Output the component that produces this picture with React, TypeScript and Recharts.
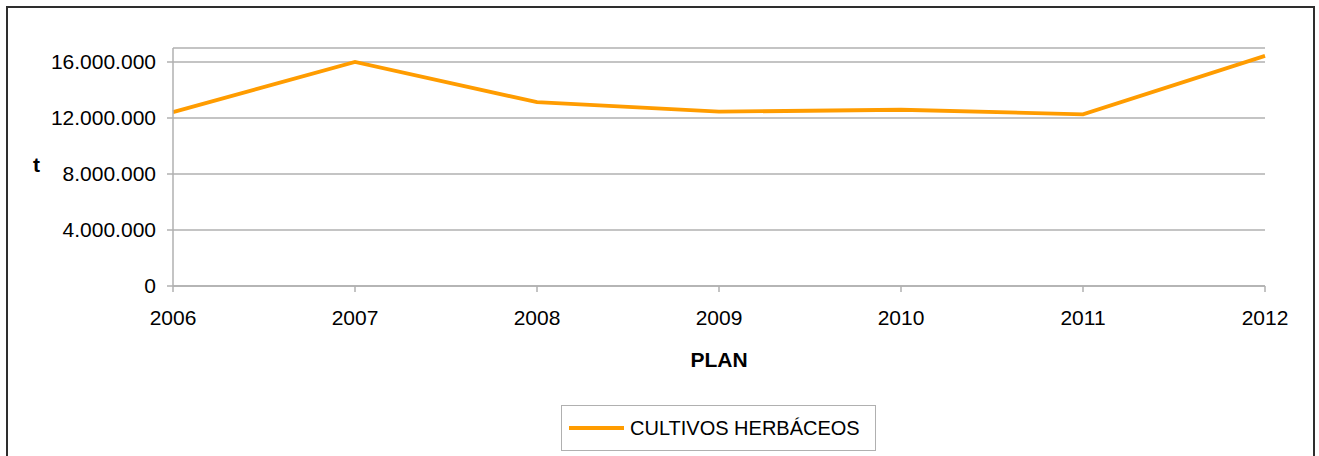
import { CartesianGrid, Label, Line, LineChart, XAxis, YAxis } from "recharts";

const years = ["2006", "2007", "2008", "2009", "2010", "2011", "2012"];
const herbaceos = [12420000, 16000000, 13130000, 12450000, 12590000, 12260000, 16440000];
const yTicks = [0, 4000000, 8000000, 12000000, 16000000];
const seriesName = "CULTIVOS HERBÁCEOS";

const data = years.map((year, i) => ({ year, value: herbaceos[i] }));

const ORANGE = "#ff9c00";
const GRAY = "#b0b0b0";
const FONT = "'Liberation Sans', Arial, sans-serif";

const fmt = (v: number) => String(v).replace(/\B(?=(\d{3})+(?!\d))/g, ".");

export default function App() {
  return (
    <div
      style={{
        position: "fixed",
        left: 0,
        top: 0,
        width: 1319,
        height: 456,
        overflow: "hidden",
        background: "#fff",
        fontFamily: FONT
      }}
    >
      <div
        style={{
          position: "absolute",
          left: 6,
          top: 6,
          width: 1305,
          height: 470,
          border: "2px solid #2e2e2e"
        }}
      />
      <div style={{ position: "absolute", left: 0, top: 0 }}>
        <LineChart
          width={1319}
          height={456}
          data={data}
          margin={{ top: 48, right: 54, left: 13, bottom: 70 }}
        >
          <CartesianGrid horizontal vertical={false} stroke={GRAY} strokeWidth={1.5} />
          <XAxis
            dataKey="year"
            height={100}
            stroke={GRAY}
            strokeWidth={1.5}
            tickSize={6}
            tickMargin={18}
            tick={{ fill: "#000", fontSize: 21, fontFamily: FONT }}
          >
            <Label
              value="PLAN"
              position="insideBottom"
              offset={19}
              style={{ fill: "#000", fontSize: 21, fontWeight: "bold", fontFamily: FONT }}
            />
          </XAxis>
          <YAxis
            width={160}
            domain={[0, 17000000]}
            ticks={yTicks}
            tickFormatter={fmt}
            stroke={GRAY}
            strokeWidth={1.5}
            tickSize={6}
            tickMargin={11}
            tick={{ fill: "#000", fontSize: 21, fontFamily: FONT }}
          >
            <Label
              value="t"
              position="insideLeft"
              offset={20}
              dy={-2}
              style={{ fill: "#000", fontSize: 21, fontWeight: "bold", fontFamily: FONT }}
            />
          </YAxis>
          <Line
            type="linear"
            dataKey="value"
            name={seriesName}
            stroke={ORANGE}
            strokeWidth={3.8}
            dot={false}
            activeDot={false}
            isAnimationActive={false}
          />
        </LineChart>
      </div>
      <div
        style={{
          position: "absolute",
          left: 561,
          top: 405,
          width: 313,
          height: 44,
          border: `1px solid ${GRAY}`,
          display: "flex",
          alignItems: "center",
          boxSizing: "content-box"
        }}
      >
        <svg width={62} height={10} style={{ marginLeft: 6 }}>
          <line x1={1} y1={5} x2={56} y2={5} stroke={ORANGE} strokeWidth={4} />
        </svg>
        <span style={{ fontSize: 20, color: "#000" }}>{seriesName}</span>
      </div>
    </div>
  );
}
